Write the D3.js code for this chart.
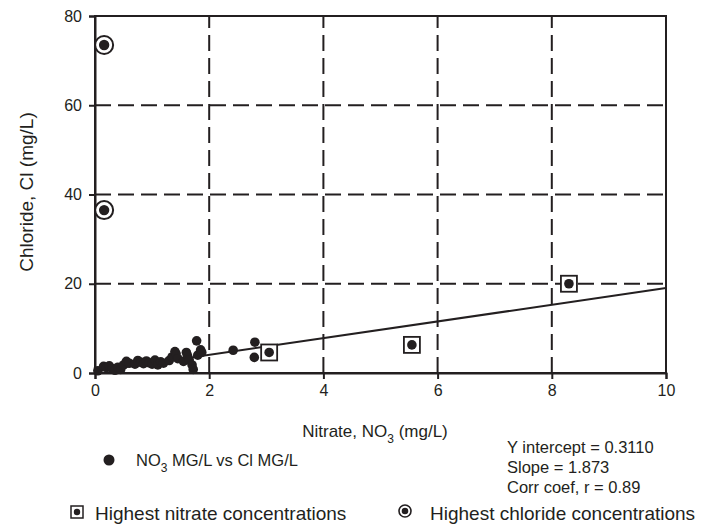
<!DOCTYPE html>
<html><head><meta charset="utf-8">
<script src="https://cdn.jsdelivr.net/npm/d3@7"></script>
<style>body{margin:0;background:#fff}svg{display:block}text{font-family:"Liberation Sans",Arial,sans-serif;fill:#231f20}</style>
</head><body><div id="chart"></div>
<script>
// ---- data ----
const nitrate = [0.05,0.15,0.2,0.25,0.3,0.35,0.4,0.45,0.5,0.55,0.6,0.7,0.75,0.8,0.85,0.9,0.95,1.0,1.05,1.1,1.15,1.2,1.3,1.35,1.4,1.42,1.45,1.55,1.6,1.62,1.65,1.7,1.72,1.78,1.8,1.85,1.87,2.42,2.8,2.79];
const chloride = [0.5,1.5,1.2,1.6,1.0,0.6,1.3,0.8,1.8,2.6,2.2,2.0,2.8,2.4,2.1,2.7,2.3,2.0,2.9,1.8,2.5,2.2,2.8,3.6,4.8,4.3,3.2,2.6,4.6,3.9,2.9,1.8,0.8,7.2,4.0,5.2,4.6,5.1,6.9,3.5];
const highNitrateX = [3.05,5.55,8.3];
const highNitrateY = [4.6,6.3,20.0];
const highChlorideX = [0.16,0.16];
const highChlorideY = [73.5,36.5];
const xTicks = [0,2,4,6,8,10];
const yTicks = [0,20,40,60,80];
const intercept = 0.3110, slope = 1.873, corr = 0.89;
const statLines = ["Y intercept = 0.3110","Slope = 1.873","Corr coef, r  = 0.89"];

const W=709,H=525;
const m={l:95,r:43,t:16,b:152};
const svg=d3.select("#chart").append("svg").attr("width",W).attr("height",H);
const x=d3.scaleLinear().domain([0,10]).range([m.l,W-m.r]);
const y=d3.scaleLinear().domain([0,80]).range([H-m.b,m.t]);
const ink="#231f20";

// gridlines
svg.append("g").selectAll("line").data(xTicks.filter(d=>d>0&&d<10)).join("line")
 .attr("x1",d=>x(d)).attr("x2",d=>x(d)).attr("y1",y(0)).attr("y2",y(80))
 .attr("stroke",ink).attr("stroke-width",2).attr("stroke-dasharray","16,7");
svg.append("g").selectAll("line").data(yTicks.filter(d=>d>0&&d<80)).join("line")
 .attr("x1",x(0)).attr("x2",x(10)).attr("y1",d=>y(d)).attr("y2",d=>y(d))
 .attr("stroke",ink).attr("stroke-width",2).attr("stroke-dasharray","16,7");

// frame
svg.append("rect").attr("x",x(0)).attr("y",y(80)).attr("width",x(10)-x(0)).attr("height",y(0)-y(80))
 .attr("fill","none").attr("stroke",ink).attr("stroke-width",2);

// axes
const xa=svg.append("g").attr("transform",`translate(0,${y(0)})`)
 .call(d3.axisBottom(x).tickValues(xTicks).tickSize(6).tickPadding(6).tickFormat(d3.format("d")));
const ya=svg.append("g").attr("transform",`translate(${x(0)},0)`)
 .call(d3.axisLeft(y).tickValues(yTicks).tickSize(6).tickPadding(7).tickFormat(d3.format("d")));
[xa,ya].forEach(a=>{a.select(".domain").attr("stroke",ink).attr("stroke-width",2);
 a.selectAll(".tick line").attr("stroke",ink).attr("stroke-width",2);
 a.selectAll(".tick text").attr("font-size",16).attr("font-family","Liberation Sans, Arial").attr("fill",ink);});

// regression line
svg.append("line").attr("x1",x(0)).attr("y1",y(intercept)).attr("x2",x(10)).attr("y2",y(intercept+slope*10))
 .attr("stroke",ink).attr("stroke-width",2);

// points
const pts=nitrate.map((v,i)=>({x:v,y:chloride[i]}));
svg.append("g").selectAll("circle").data(pts).join("circle")
 .attr("cx",d=>x(d.x)).attr("cy",d=>y(d.y)).attr("r",4.8).attr("fill",ink);

// high nitrate
const hn=highNitrateX.map((v,i)=>({x:v,y:highNitrateY[i]}));
const gn=svg.append("g");
gn.selectAll("rect").data(hn).join("rect").attr("x",d=>x(d.x)-8).attr("y",d=>y(d.y)-8).attr("width",16).attr("height",16)
 .attr("fill","#fff").attr("stroke",ink).attr("stroke-width",1.8);
gn.selectAll("circle").data(hn).join("circle").attr("cx",d=>x(d.x)).attr("cy",d=>y(d.y)).attr("r",4.8).attr("fill",ink);

// high chloride
const hc=highChlorideX.map((v,i)=>({x:v,y:highChlorideY[i]}));
const gc=svg.append("g");
gc.selectAll("circle.o").data(hc).join("circle").attr("class","o").attr("cx",d=>x(d.x)).attr("cy",d=>y(d.y)).attr("r",9)
 .attr("fill","#fff").attr("stroke",ink).attr("stroke-width",2);
gc.selectAll("circle.i").data(hc).join("circle").attr("class","i").attr("cx",d=>x(d.x)).attr("cy",d=>y(d.y)).attr("r",5.2).attr("fill",ink);

// axis titles
const xt=svg.append("text").attr("x",375).attr("y",437).attr("text-anchor","middle").attr("font-size",17);
xt.append("tspan").text("Nitrate, NO");
xt.append("tspan").attr("font-size",12).attr("dy",6).text("3");
xt.append("tspan").attr("dy",-6).text(" (mg/L)");
svg.append("text").attr("transform","translate(33,192) rotate(-90)").attr("text-anchor","middle").attr("font-size",19)
 .text("Chloride, Cl (mg/L)");

// series legend
svg.append("circle").attr("cx",109).attr("cy",460).attr("r",5.5).attr("fill",ink);
const lt=svg.append("text").attr("x",136).attr("y",466).attr("font-size",16.5);
lt.append("tspan").text("NO");
lt.append("tspan").attr("font-size",12).attr("dy",6).text("3");
lt.append("tspan").attr("dy",-6).text(" MG/L vs Cl MG/L");

// stats
svg.append("g").selectAll("text").data(statLines).join("text")
 .attr("x",507).attr("y",(d,i)=>453+i*20).attr("font-size",16.5).text(d=>d);

// bottom legend
svg.append("rect").attr("x",71).attr("y",506).attr("width",12).attr("height",12).attr("fill","#fff").attr("stroke",ink).attr("stroke-width",1.5);
svg.append("circle").attr("cx",77).attr("cy",512).attr("r",3.2).attr("fill",ink);
svg.append("text").attr("x",95).attr("y",520).attr("font-size",19).text("Highest nitrate concentrations");
svg.append("circle").attr("cx",405).attr("cy",511).attr("r",6).attr("fill","#fff").attr("stroke",ink).attr("stroke-width",1.6);
svg.append("circle").attr("cx",405).attr("cy",511).attr("r",3.3).attr("fill",ink);
svg.append("text").attr("x",430).attr("y",520).attr("font-size",19).text("Highest chloride concentrations");
</script></body></html>
